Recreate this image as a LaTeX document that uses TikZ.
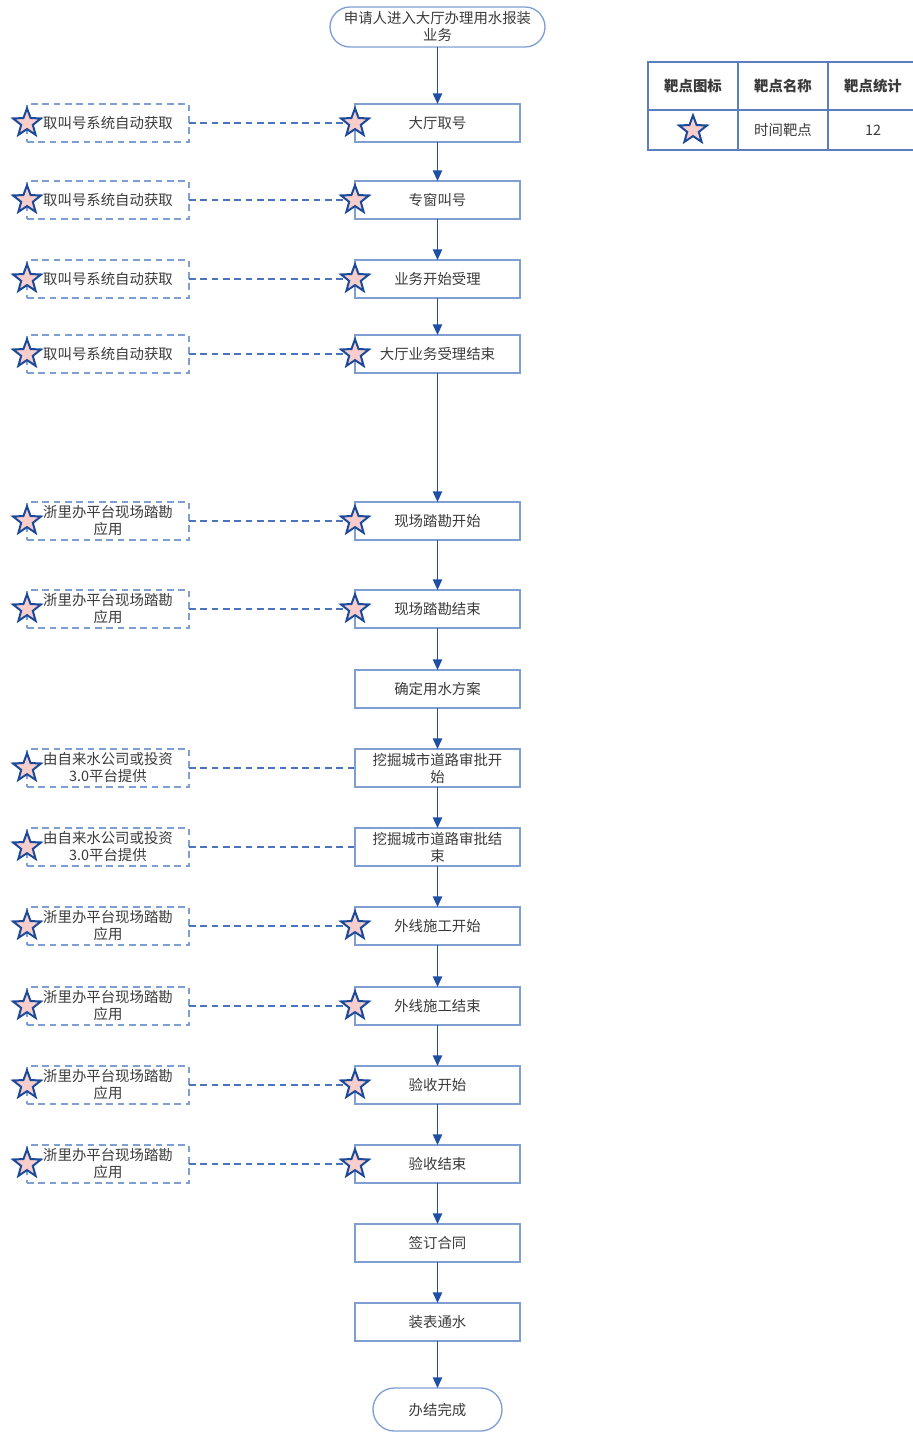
\documentclass[tikz,border=0pt]{standalone}
\usepackage{fontspec}
\setmainfont{Noto Sans CJK SC}
\usetikzlibrary{positioning,arrows.meta,shapes.geometric}
\definecolor{boxline}{HTML}{7F9FD3}
\definecolor{flowline}{HTML}{1F4FA3}
\definecolor{linkline}{HTML}{4A74BE}
\definecolor{starline}{HTML}{1C4A9A}
\definecolor{starfill}{HTML}{F8CECC}
\definecolor{tabline}{HTML}{5A7EC0}
\definecolor{txt}{HTML}{3A3A3A}

\begin{document}
\begin{tikzpicture}[x=0.75pt, y=-0.75pt, node distance=30.75pt,
  every node/.style={align=center, text=txt, outer sep=0pt, font=\fontsize{10.8}{12.75}\selectfont},
  procbox/.style={draw=boxline, line width=1.3pt, minimum width=123.75pt, minimum height=28.5pt, inner sep=1pt},
  termbox/.style={draw=boxline, line width=1pt, rounded corners=15pt, minimum height=30pt, inner sep=1pt},
  srcbox/.style={draw=boxline, line width=1.3pt, dash pattern=on 5pt off 3.5pt, minimum width=121.5pt, minimum height=28.5pt, inner sep=1pt},
  flow/.style={draw=flowline, line width=1.1pt, -{Triangle[length=8pt,width=7pt]}},
  link/.style={draw=linkline, line width=0.9pt, dash pattern=on 5pt off 3.5pt},
  target/.style={star, star points=5, star point ratio=2.4, minimum size=22pt, inner sep=0pt, draw=starline, fill=starfill, line width=1.5pt},
  tabcell/.style={draw=tabline, line width=1.3pt, minimum width=67.5pt, inner sep=0pt, font=\fontsize{10.8}{12.75}\selectfont\bfseries}
]
\useasboundingbox (0,0) rectangle (913,1434);

% main flow
\node (start) [termbox, minimum width=161.25pt] at (437.5,27) {申请人进入大厅办理用水报装\\业务};
\node (n1) [procbox, below=42.75pt of start] {大厅取号};
\node (n2) [procbox, below=29.25pt of n1] {专窗叫号};
\node (n3) [procbox, below=of n2] {业务开始受理};
\node (n4) [procbox, below=27.75pt of n3] {大厅业务受理结束};
\node (n5) [procbox, below=96.75pt of n4] {现场踏勘开始};
\node (n6) [procbox, below=37.5pt of n5] {现场踏勘结束};
\node (n7) [procbox, below=31.5pt of n6] {确定用水方案};
\node (n8) [procbox, below=of n7] {挖掘城市道路审批开\\始};
\node (n9) [procbox, below=of n8] {挖掘城市道路审批结\\束};
\node (n10) [procbox, below=of n9] {外线施工开始};
\node (n11) [procbox, below=31.5pt of n10] {外线施工结束};
\node (n12) [procbox, below=of n11] {验收开始};
\node (n13) [procbox, below=of n12] {验收结束};
\node (n14) [procbox, below=of n13] {签订合同};
\node (n15) [procbox, below=of n14] {装表通水};
\node (done) [termbox, minimum width=96.75pt, minimum height=32.25pt, rounded corners=16pt, below=35.25pt of n15] {办结完成};

% data sources
\node (s1) [srcbox, left=124.5pt of n1] {取叫号系统自动获取};
\node (s2) [srcbox, left=124.5pt of n2] {取叫号系统自动获取};
\node (s3) [srcbox, left=124.5pt of n3] {取叫号系统自动获取};
\node (s4) [srcbox, left=124.5pt of n4] {取叫号系统自动获取};
\node (s5) [srcbox, left=124.5pt of n5] {浙里办平台现场踏勘\\应用};
\node (s6) [srcbox, left=124.5pt of n6] {浙里办平台现场踏勘\\应用};
\node (s8) [srcbox, left=124.5pt of n8] {由自来水公司或投资\\3.0平台提供};
\node (s9) [srcbox, left=124.5pt of n9] {由自来水公司或投资\\3.0平台提供};
\node (s10) [srcbox, left=124.5pt of n10] {浙里办平台现场踏勘\\应用};
\node (s11) [srcbox, left=124.5pt of n11] {浙里办平台现场踏勘\\应用};
\node (s12) [srcbox, left=124.5pt of n12] {浙里办平台现场踏勘\\应用};
\node (s13) [srcbox, left=124.5pt of n13] {浙里办平台现场踏勘\\应用};

\draw[flow] (start) -- (n1);
\foreach \a/\b in {n1/n2, n2/n3, n3/n4, n4/n5, n5/n6, n6/n7, n7/n8, n8/n9, n9/n10, n10/n11, n11/n12, n12/n13, n13/n14, n14/n15, n15/done}
  \draw[flow] (\a) -- (\b);

\foreach \s in {1,...,6,8,9,...,13}
  \draw[link] (s\s) -- (n\s);

% time targets
\foreach \s in {1,...,6,8,9,...,13}
  \node (t\s) [target] at (s\s.west) {};
\foreach \s in {1,...,6,10,11,12,13}
  \node (m\s) [target] at (n\s.west) {};

% legend table
\node (hIcon) [tabcell, minimum height=36pt] at (693,86) {靶点图标};
\node (hName) [tabcell, minimum height=36pt, right=0pt of hIcon] {靶点名称};
\node (hCount) [tabcell, minimum height=36pt, right=0pt of hName] {靶点统计};
\node (cIcon) [tabcell, minimum height=30pt, below=0pt of hIcon] {};
\node (cName) [tabcell, minimum height=30pt, font=\fontsize{10.8}{12.75}\selectfont, below=0pt of hName] {时间靶点};
\node (cCount) [tabcell, minimum height=30pt, font=\fontsize{10.8}{12.75}\selectfont, below=0pt of hCount] {12};
\node (legend) [target] at (cIcon) {};
\end{tikzpicture}
\end{document}
